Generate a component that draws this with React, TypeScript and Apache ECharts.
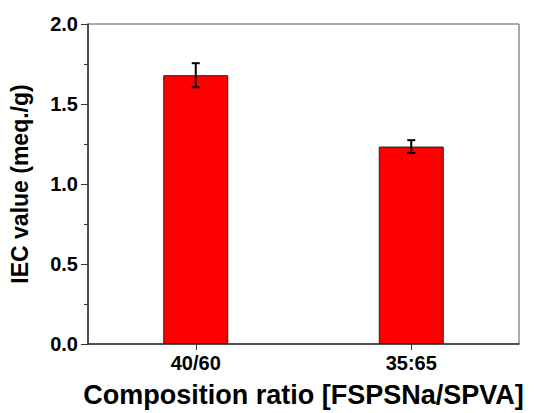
import React, { useEffect, useRef } from "react";
import * as echarts from "echarts";

const categories = ["40/60", "35:65"];
const iecValues = [1.68, 1.234];
const iecErrors = [0.075, 0.04];
const yTicks = [0, 0.5, 1.0, 1.5, 2.0];

export default function App() {
  const ref = useRef<HTMLDivElement>(null);
  useEffect(() => {
    if (!ref.current) return;
    const chart = echarts.init(ref.current, null, { renderer: "svg" });
    const font = "'Liberation Sans', Arial, sans-serif";
    chart.setOption({
      animation: false,
      backgroundColor: "#ffffff",
      grid: {
        left: 88,
        right: 17,
        top: 24,
        bottom: 66,
        show: true,
        borderColor: "#555",
        borderWidth: 1,
        backgroundColor: "transparent",
      },
      xAxis: {
        type: "category",
        data: categories,
        name: "Composition ratio [FSPSNa/SPVA]",
        nameLocation: "middle",
        nameGap: 37,
        nameTextStyle: { fontFamily: font, fontWeight: "bold", fontSize: 27, color: "#000" },
        axisLine: { lineStyle: { color: "#333", width: 1.5 } },
        axisTick: { show: true, alignWithLabel: true, length: 6, lineStyle: { color: "#333" } },
        axisLabel: { fontFamily: font, fontWeight: "bold", fontSize: 20, color: "#000", margin: 9 },
      },
      yAxis: {
        type: "value",
        min: 0,
        max: 2,
        interval: 0.5,
        name: "IEC value (meq./g)",
        nameLocation: "middle",
        nameGap: 57,
        nameTextStyle: { fontFamily: font, fontWeight: "bold", fontSize: 23, color: "#000" },
        axisLine: { show: true, lineStyle: { color: "#333", width: 1.5 } },
        axisTick: { show: true, length: 7, lineStyle: { color: "#333" } },
        minorTick: { show: true, splitNumber: 2, length: 4, lineStyle: { color: "#333" } },
        splitLine: { show: false },
        axisLabel: {
          fontFamily: font,
          fontWeight: "bold",
          fontSize: 20,
          color: "#000",
          margin: 10,
          formatter: (v: number) => (yTicks.includes(v) ? v.toFixed(1) : ""),
        },
      },
      series: [
        {
          type: "bar",
          data: iecValues,
          barWidth: 65,
          itemStyle: { color: "#ff0000", borderColor: "#222", borderWidth: 1 },
        },
        {
          type: "custom",
          data: iecValues.map((v, i) => [i, v - iecErrors[i], v + iecErrors[i]]),
          renderItem: (params: any, api: any) => {
            const x = api.value(0);
            const lo = api.coord([x, api.value(1)]);
            const hi = api.coord([x, api.value(2)]);
            const hw = 4;
            const style = { stroke: "#000", lineWidth: 2 };
            return {
              type: "group",
              children: [
                { type: "line", shape: { x1: lo[0], y1: lo[1], x2: hi[0], y2: hi[1] }, style },
                { type: "line", shape: { x1: lo[0] - hw, y1: lo[1], x2: lo[0] + hw, y2: lo[1] }, style },
                { type: "line", shape: { x1: hi[0] - hw, y1: hi[1], x2: hi[0] + hw, y2: hi[1] }, style },
              ],
            };
          },
          z: 5,
        },
      ],
    });
    return () => chart.dispose();
  }, []);
  return (
    <div
      ref={ref}
      style={{ position: "fixed", left: 0, top: 0, width: 536, height: 413, background: "#fff" }}
    />
  );
}
